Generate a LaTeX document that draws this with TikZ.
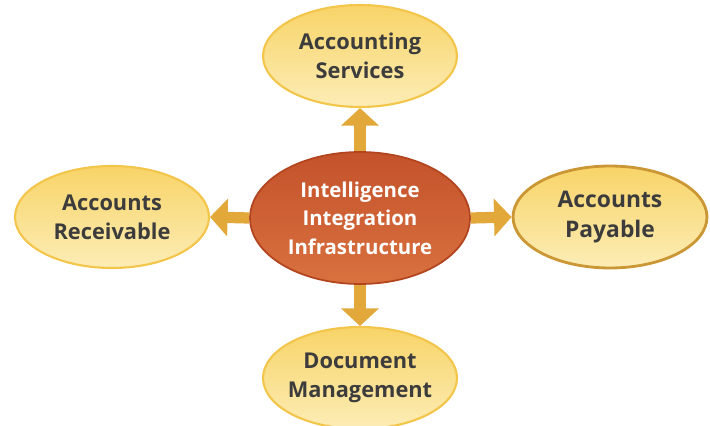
\documentclass[tikz,border=0pt]{standalone}
\usepackage{fontspec}
\setmainfont{Open Sans}
\usepackage{xcolor}
\usepackage{tikz}
\usetikzlibrary{shapes,arrows,positioning,calc,arrows.meta}

\definecolor{petalfill}{HTML}{F8D468}
\definecolor{petallight}{HTML}{FCEDB6}
\definecolor{petalline}{HTML}{F3C54A}
\definecolor{hubfill}{HTML}{C4522B}
\definecolor{hublight}{HTML}{D9713F}
\definecolor{hubline}{HTML}{B2451F}
\definecolor{arrowgold}{HTML}{E2A83A}
\definecolor{textgray}{HTML}{3C3C3C}

\tikzset{
    petal/.style={ellipse, draw=petalline, line width=1.2pt, top color=petalfill, bottom color=petallight,
        minimum width=3.88cm, minimum height=2.04cm, inner sep=-12pt, align=center,
        text=textgray, font=\fontsize{12.4}{16.6}\selectfont\bfseries},
    hub/.style={ellipse, draw=hubline, line width=1pt, top color=hubfill, bottom color=hublight,
        minimum width=4.4cm, minimum height=2.64cm, inner sep=-12pt, align=center,
        text=white, font=\fontsize{11.6}{16.2}\selectfont\bfseries},
    link/.style={draw=arrowgold, line width=6.4pt, -{Triangle[width=21pt, length=10pt]}}
}

\begin{document}
\begin{tikzpicture}[x=0.02cm, y=-0.02cm]
    % Canvas
    \useasboundingbox (0,0) rectangle (710,426);

    % Hub
    \node[hub] (core) at (360,218) {Intelligence\\Integration\\Infrastructure};

    % Surrounding services
    \node[petal] (services) at (360,56) {Accounting\\Services};
    \node[petal] (receivable) at (112,217) {Accounts\\Receivable};
    \node[petal, draw=arrowgold!90!black, line width=1.6pt, font=\fontsize{13}{17}\selectfont\bfseries] (payable) at (610,217) {Accounts\\Payable};
    \node[petal] (documents) at (360,378) {Document\\Management};

    % Arrows out of the hub
    \draw[link] (core.north) -- (services.south);
    \draw[link] (core.west) -- (receivable.east);
    \draw[link] (core.east) -- (payable.west);
    \draw[link] (core.south) -- (documents.north);
\end{tikzpicture}
\end{document}
